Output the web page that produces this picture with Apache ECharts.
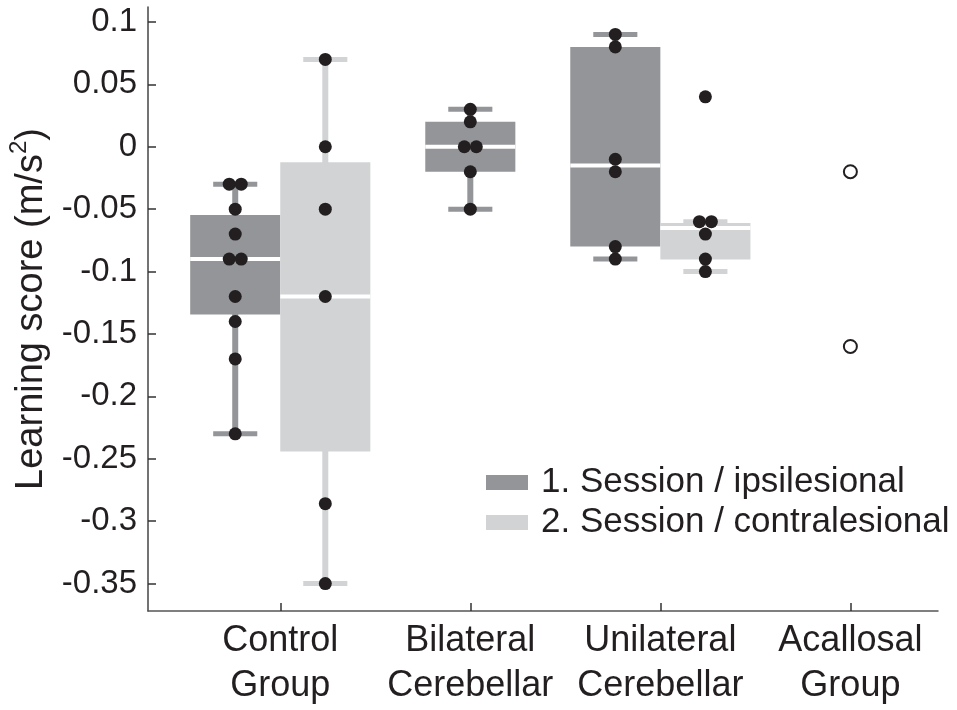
<!DOCTYPE html>
<html>
<head>
<meta charset="utf-8">
<script src="https://cdn.jsdelivr.net/npm/echarts@6/dist/echarts.min.js"></script>
<style>
html,body{margin:0;padding:0;background:#fff;}
#chart{width:957px;height:710px;}
</style>
</head>
<body>
<div id="chart"></div>
<script>
// ---- data ----
const groups = ['Control\nGroup', 'Bilateral\nCerebellar', 'Unilateral\nCerebellar', 'Acallosal\nGroup'];
const seriesNames = ['1. Session / ipsilesional', '2. Session / contralesional'];
const yTicks = [-0.35, -0.3, -0.25, -0.2, -0.15, -0.1, -0.05, 0, 0.05, 0.1];
const yTickLabels = ['-0.35', '-0.3', '-0.25', '-0.2', '-0.15', '-0.1', '-0.05', '0', '0.05', '0.1'];

// individual subject scores
const controlS1 = [-0.03, -0.03, -0.05, -0.07, -0.09, -0.09, -0.12, -0.14, -0.17, -0.23];
const controlS2 = [0.07, 0, -0.05, -0.12, -0.286, -0.35];
const bilateralS1 = [0.03, 0.02, 0, 0, -0.02, -0.05];
const unilateralS1 = [0.09, 0.08, -0.01, -0.02, -0.08, -0.09];
const unilateralS2 = [0.04, -0.06, -0.06, -0.07, -0.09, -0.10];
const acallosal = [-0.02, -0.16];

// box statistics: [lower whisker, Q1, median, Q3, upper whisker]
const controlS1Box = [-0.23, -0.1345, -0.09, -0.0546, -0.03];
const controlS2Box = [-0.35, -0.2442, -0.12, -0.0124, 0.07];
const bilateralS1Box = [-0.05, -0.02, 0, 0.02, 0.03];
const unilateralS1Box = [-0.09, -0.08, -0.015, 0.08, 0.09];
const unilateralS2Box = [-0.10, -0.0904, -0.065, -0.061, -0.06];

// ---- layout (not data) ----
const darkGray = '#939598';
const lightGray = '#d1d3d4';
const ink = '#231f20';
const BOX_HALF = 0.237;   // in x-axis units
const CAP_HALF = 0.116;
const DOT_GAP = 12;       // px between duplicate dots

function groupX(g, session, paired) {
  const base = g + 1;
  if (!paired) return base;
  return session === 1 ? base - BOX_HALF : base + BOX_HALF;
}

const s1Boxes = [
  [groupX(0, 1, true)].concat(controlS1Box),
  [groupX(1, 1, false)].concat(bilateralS1Box),
  [groupX(2, 1, true)].concat(unilateralS1Box)
];
const s2Boxes = [
  [groupX(0, 2, true)].concat(controlS2Box),
  [groupX(2, 2, true)].concat(unilateralS2Box)
];

function dots(values, x) {
  const out = [];
  const counts = {};
  values.forEach(v => { const k = v.toFixed(4); counts[k] = (counts[k] || 0) + 1; });
  const seen = {};
  values.forEach(v => {
    const k = v.toFixed(4);
    const n = counts[k];
    const i = seen[k] || 0;
    seen[k] = i + 1;
    out.push({ value: [x, v], symbolOffset: [(i - (n - 1) / 2) * DOT_GAP, 0] });
  });
  return out;
}

const filledDots = []
  .concat(dots(controlS1, groupX(0, 1, true)))
  .concat(dots(controlS2, groupX(0, 2, true)))
  .concat(dots(bilateralS1, groupX(1, 1, false)))
  .concat(dots(unilateralS1, groupX(2, 1, true)))
  .concat(dots(unilateralS2, groupX(2, 2, true)));
const openDots = dots(acallosal, 4);

function boxRenderer(color) {
  return function (params, api) {
    const x = api.value(0);
    const lo = api.value(1), q1 = api.value(2), med = api.value(3), q3 = api.value(4), hi = api.value(5);
    const halfW = api.size([BOX_HALF, 0])[0];
    const capW = api.size([CAP_HALF, 0])[0];
    const pLo = api.coord([x, lo]);
    const pHi = api.coord([x, hi]);
    const pQ1 = api.coord([x, q1]);
    const pQ3 = api.coord([x, q3]);
    const pMed = api.coord([x, med]);
    const cx = pLo[0];
    return {
      type: 'group',
      children: [
        { type: 'line', shape: { x1: cx, y1: pLo[1], x2: cx, y2: pHi[1] }, style: { stroke: color, lineWidth: 6 } },
        { type: 'line', shape: { x1: cx - capW, y1: pLo[1], x2: cx + capW, y2: pLo[1] }, style: { stroke: color, lineWidth: 5 } },
        { type: 'line', shape: { x1: cx - capW, y1: pHi[1], x2: cx + capW, y2: pHi[1] }, style: { stroke: color, lineWidth: 5 } },
        { type: 'rect', shape: { x: cx - halfW, y: pQ3[1], width: halfW * 2, height: pQ1[1] - pQ3[1] }, style: { fill: color } },
        { type: 'line', shape: { x1: cx - halfW, y1: pMed[1], x2: cx + halfW, y2: pMed[1] }, style: { stroke: '#ffffff', lineWidth: 4 } }
      ]
    };
  };
}

const chart = echarts.init(document.getElementById('chart'), null, { renderer: 'canvas' });
const font = "'Liberation Sans', Arial, Helvetica, sans-serif";

chart.setOption({
  animation: false,
  backgroundColor: '#ffffff',
  textStyle: { fontFamily: font, color: ink },
  grid: { left: 148, right: 19, top: 7, bottom: 99, containLabel: false, outerBoundsMode: 'none' },
  legend: {
    orient: 'vertical',
    left: 481,
    top: 460,
    itemWidth: 42,
    itemHeight: 15,
    itemGap: 5,
    icon: 'rect',
    textStyle: { fontSize: 35, color: ink, fontFamily: font, padding: [0, 0, 0, 8] },
    data: seriesNames
  },
  xAxis: {
    type: 'value',
    min: 0.304,
    max: 4.461,
    axisLine: { onZero: false, lineStyle: { color: '#555', width: 1.5 } },
    axisTick: { show: true, inside: true, length: 8, customValues: [1, 2, 3, 4], lineStyle: { color: '#333', width: 1.5 } },
    axisLabel: {
      customValues: [1, 2, 3, 4],
      formatter: v => groups[Math.round(v) - 1] || '',
      fontSize: 36,
      lineHeight: 45,
      margin: 8,
      color: ink,
      fontFamily: font
    },
    splitLine: { show: false }
  },
  yAxis: {
    type: 'value',
    min: -0.372,
    max: 0.112,
    axisLine: { onZero: false, lineStyle: { color: '#444', width: 1.5 } },
    axisTick: { show: true, inside: true, length: 8, customValues: yTicks, lineStyle: { color: '#333', width: 1.5 } },
    axisLabel: {
      customValues: yTicks,
      formatter: v => {
        const i = yTicks.findIndex(t => Math.abs(t - v) < 1e-9);
        return i >= 0 ? yTickLabels[i] : '';
      },
      fontSize: 33,
      margin: 11,
      color: ink,
      fontFamily: font
    },
    splitLine: { show: false },
    name: '{a|Learning score (m/s}{s|2}{a|)}',
    nameLocation: 'middle',
    nameGap: 96,
    nameRotate: 90,
    nameTextStyle: {
      rich: {
        a: { fontSize: 38, lineHeight: 46, color: ink, fontFamily: font, verticalAlign: 'bottom' },
        s: { fontSize: 24, lineHeight: 46, color: ink, fontFamily: font, verticalAlign: 'top', padding: [2, 0, 0, 0] }
      }
    }
  },
  series: [
    {
      name: seriesNames[0],
      type: 'custom',
      renderItem: boxRenderer(darkGray),
      itemStyle: { color: darkGray },
      encode: { x: 0, y: [1, 2, 3, 4, 5] },
      data: s1Boxes,
      z: 2
    },
    {
      name: seriesNames[1],
      type: 'custom',
      renderItem: boxRenderer(lightGray),
      itemStyle: { color: lightGray },
      encode: { x: 0, y: [1, 2, 3, 4, 5] },
      data: s2Boxes,
      z: 2
    },
    {
      name: 'subjects',
      type: 'scatter',
      symbol: 'circle',
      symbolSize: 13,
      itemStyle: { color: ink, opacity: 1 },
      data: filledDots,
      z: 5
    },
    {
      name: 'acallosal',
      type: 'scatter',
      symbol: 'circle',
      symbolSize: 13,
      itemStyle: { color: '#ffffff', borderColor: ink, borderWidth: 2, opacity: 1 },
      data: openDots,
      z: 5
    }
  ]
});
</script>
</body>
</html>
